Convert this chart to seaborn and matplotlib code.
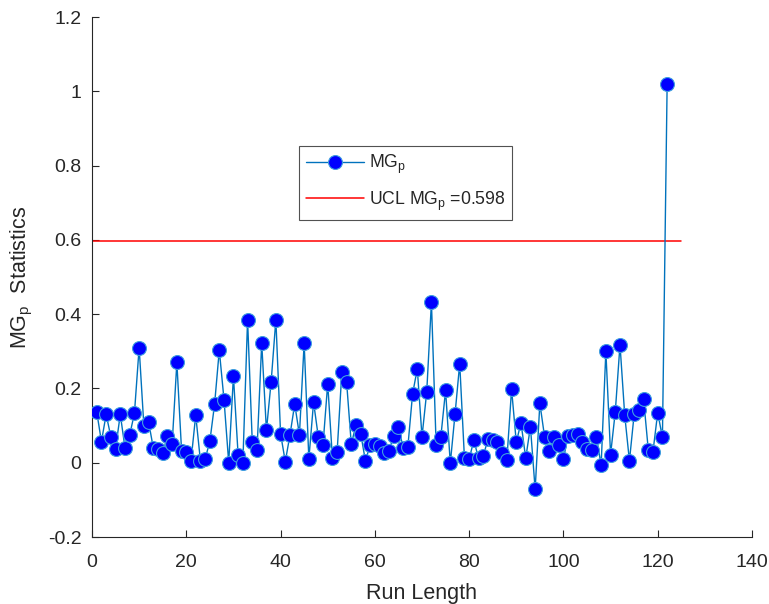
import matplotlib
matplotlib.use("Agg")
import matplotlib.pyplot as plt
import seaborn as sns
import pandas as pd
import numpy as np

run_length = list(range(1, 123))
mgp_values = [
    0.137, 0.057, 0.130, 0.070, 0.038, 0.130, 0.040, 0.075, 0.133, 0.310,
    0.100, 0.110, 0.040, 0.038, 0.025, 0.073, 0.050, 0.270, 0.032, 0.030,
    0.005, 0.128, 0.005, 0.010, 0.058, 0.157, 0.303, 0.170, 0.000, 0.233,
    0.020, 0.000, 0.385, 0.055, 0.033, 0.322, 0.087, 0.218, 0.385, 0.078,
    0.003, 0.075, 0.158, 0.075, 0.322, 0.010, 0.163, 0.070, 0.048, 0.213,
    0.012, 0.030, 0.245, 0.218, 0.050, 0.102, 0.078, 0.005, 0.048, 0.050,
    0.045, 0.027, 0.032, 0.073, 0.097, 0.040, 0.043, 0.185, 0.253, 0.070,
    0.190, 0.432, 0.048, 0.070, 0.195, -0.002, 0.130, 0.267, 0.013, 0.010,
    0.060, 0.012, 0.017, 0.065, 0.062, 0.057, 0.025, 0.008, 0.198, 0.055,
    0.108, 0.012, 0.097, -0.072, 0.160, 0.070, 0.032, 0.068, 0.047, 0.010,
    0.073, 0.075, 0.077, 0.057, 0.037, 0.035, 0.070, -0.007, 0.300, 0.022,
    0.137, 0.318, 0.128, 0.005, 0.130, 0.142, 0.172, 0.035, 0.030, 0.135,
    0.068, 1.020,
]
ucl_value = 0.598
ucl_x = [0, 125]
x_ticks = [0, 20, 40, 60, 80, 100, 120, 140]
y_ticks = [-0.2, 0, 0.2, 0.4, 0.6, 0.8, 1, 1.2]
y_tick_labels = ["-0.2", "0", "0.2", "0.4", "0.6", "0.8", "1", "1.2"]

sns.set_style("white")
plt.rcParams['font.family'] = ['Liberation Sans', 'DejaVu Sans']
plt.rcParams['mathtext.fontset'] = 'custom'
plt.rcParams['mathtext.rm'] = 'Liberation Sans'
plt.rcParams['mathtext.it'] = 'Liberation Sans'
plt.rcParams['mathtext.default'] = 'rm'

fig = plt.figure(figsize=(7.69, 6.04), dpi=100)
ax = fig.add_axes([92/769, 67/604, 660/769, 520/604])

df = pd.DataFrame({"x": run_length, "y": mgp_values})
ucl_df = pd.DataFrame({"x": ucl_x, "y": [ucl_value] * len(ucl_x)})

sns.lineplot(data=df, x="x", y="y", ax=ax, color="#0072BD", linewidth=1.0,
             marker="o", markersize=10, markerfacecolor="#0000FF",
             markeredgecolor="#3f9fdf", markeredgewidth=0.8,
             label="MG$_p$", zorder=3)
sns.lineplot(data=ucl_df, x="x", y="y", ax=ax, color="#FF0000", linewidth=1.1,
             label="UCL MG$_p$ =0.598", zorder=2)

ax.set_xlim(0, 140)
ax.set_ylim(-0.2, 1.2)
ax.set_xticks(x_ticks)
ax.set_yticks(y_ticks)
ax.set_yticklabels(y_tick_labels)
ax.tick_params(direction="in", length=5, width=0.8, labelsize=14,
               colors="#262626", bottom=True, left=True)
ax.tick_params(axis="x", pad=12)
ax.tick_params(axis="y", pad=7.5)
for s in ["top", "right"]:
    ax.spines[s].set_visible(False)
for s in ["left", "bottom"]:
    ax.spines[s].set_color("#262626")
    ax.spines[s].set_linewidth(0.8)

ax.set_xlabel("Run Length", fontsize=15.5, color="#262626", labelpad=9)
ax.set_ylabel("MG$_p$  Statistics", fontsize=15.5, color="#262626", labelpad=9)

leg = ax.legend(loc="upper left", bbox_to_anchor=(0.3136, 0.752), fontsize=12.7,
                frameon=True, fancybox=False, edgecolor="#262626",
                handlelength=3.3, handletextpad=0.25, borderpad=0.4,
                labelspacing=0.75, borderaxespad=0)
leg.get_frame().set_linewidth(0.8)

fig.savefig("out.png", dpi=100)
